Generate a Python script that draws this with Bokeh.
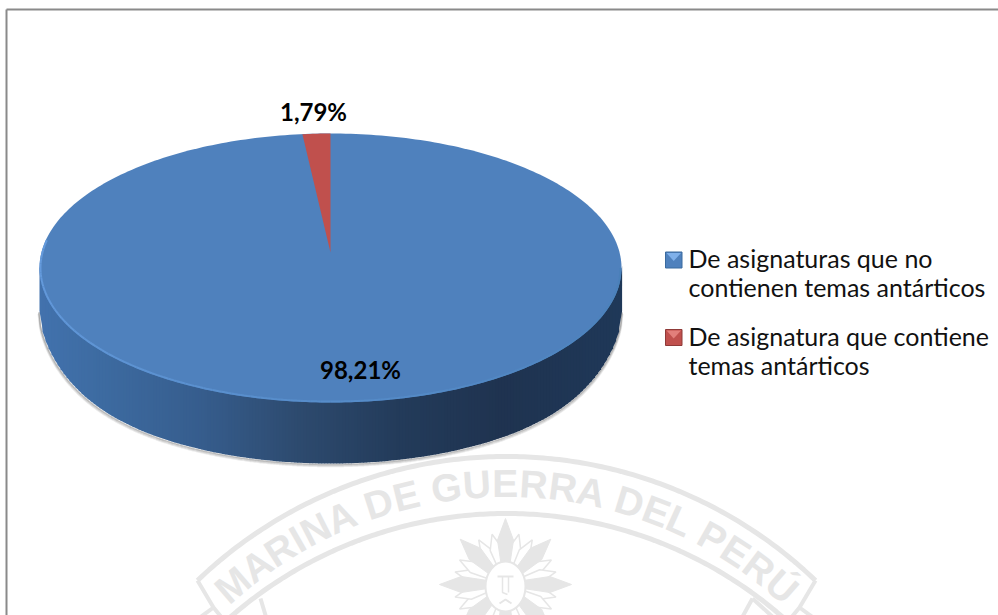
import numpy as np
from bokeh.plotting import figure
from bokeh.models import Range1d
from bokeh.core.properties import value
from bokeh.embed import file_html
from bokeh.resources import INLINE

# ---- chart data
categories = ["De asignaturas que no\ncontienen temas antárticos",
              "De asignatura que contiene\ntemas antárticos"]
series_values = [98.21, 1.79]
value_labels = ["98,21%", "1,79%"]
watermark_text = "MARINA DE GUERRA DEL PERÚ"

# ---- style
BLUE = "#4f81bd"
RED = "#c0504d"
WM = "#e6e6e6"
FONT = "Lato"

p = figure(width=998, height=615, output_backend="svg", toolbar_location=None,
           x_range=Range1d(0, 998), y_range=Range1d(615, 0), min_border=0,
           x_axis_type=None, y_axis_type=None, outline_line_color=None,
           background_fill_color="white", border_fill_color="white")
p.grid.visible = False
p.styles = {"position": "absolute", "left": "0px", "top": "0px"}

# ---- frame
p.line([6, 6], [9, 615], line_color="#8a8a8a", line_width=2)
p.line([6, 998], [9, 9], line_color="#8a8a8a", line_width=2)

# ---- watermark
wx = 506
def arc(cy, R, x0, x1):
    x = np.linspace(x0, x1, 160)
    return x, cy - np.sqrt(R**2 - (x - wx)**2)
for cy, R, x0, x1 in [(903, 447, 197, 815), (933, 420, 222, 790)]:
    xs, ys = arc(cy, R, x0, x1)
    p.line(xs, ys, line_color=WM, line_width=5)
for xs, ys in [([197, 213, 222], [580, 607, 618]), ([213, 198], [607, 618]),
               ([260, 266], [598, 618]),
               ([815, 799, 790], [580, 607, 618]), ([799, 814], [607, 618]),
               ([752, 741], [598, 618]), ([752, 774], [598, 618])]:
    p.line(xs, ys, line_color=WM, line_width=4)

char_w = {"M": .83, "A": .67, "R": .72, "I": .28, "N": .72, " ": .28, "D": .72, "E": .67,
          "G": .78, "U": .72, "L": .56, "P": .67, "Ú": .72}
widths = np.array([char_w[c] for c in watermark_text])
mids = np.cumsum(widths) - widths / 2
mids = (mids / widths.sum() - .5) * 2
ang = np.radians(43.0) * mids
Rt, cyt = 420, 903
p.text(wx + Rt * np.sin(ang), cyt - Rt * np.cos(ang), text=list(watermark_text),
       angle=-ang, text_color=WM, text_font=value("Liberation Sans"),
       text_font_size="39px", text_font_style="bold", text_align="center", text_baseline="middle")

# emblem
ex, ey = 505, 584
def ray(a, length, half, r0=18):
    a = np.radians(a)
    d = np.array([np.sin(a), -np.cos(a)])
    n = np.array([d[1], -d[0]])
    o = np.array([ex, ey])
    pts = [o + d * r0 - n * half * .5, o + d * (r0 + (length - r0) * .55) - n * half,
           o + d * length, o + d * (r0 + (length - r0) * .55) + n * half, o + d * r0 + n * half * .5]
    return [q[0] for q in pts], [q[1] for q in pts]
hollow = [15, 31, 62, 76, 104, 118, 149, 165, 195, 211, 242, 256, 284, 298, 329, 345]
solid = [(0, 66), (45, 64), (90, 66), (135, 64), (180, 66), (225, 64), (270, 66), (315, 64)]
hs = [ray(a, 52, 6) for a in hollow]
p.patches([h[0] for h in hs], [h[1] for h in hs], fill_color="white", line_color=WM, line_width=1.5)
ss = [ray(a, l, 8) for a, l in solid]
p.patches([s[0] for s in ss], [s[1] for s in ss], fill_color=WM, line_color=WM, line_width=1)
p.ellipse([ex], [ey + 2], width=40, height=50, fill_color="white", line_color=WM, line_width=2)
p.line([497, 513], [576, 576], line_color=WM, line_width=2)
p.line([502, 502, 507], [576, 592, 594], line_color=WM, line_width=1.5)
p.line([508, 508], [576, 592], line_color=WM, line_width=1.5)
p.line([499, 505, 511], [603, 599, 603], line_color=WM, line_width=2)

# ---- pie geometry
cx, cy, rx, ry, depth = 330, 267.5, 291, 134.5, 61
apex_y = 252
shares = np.array(series_values) / sum(series_values)

def lerp_col(x):
    stops_x = [39, 100, 200, 300, 400, 500, 621]
    stops = np.array([[0x42, 0x72, 0xad], [0x3d, 0x6b, 0xa1], [0x36, 0x5d, 0x8d], [0x2d, 0x4a, 0x6e],
                      [0x23, 0x3b, 0x5a], [0x1f, 0x33, 0x50], [0x1f, 0x38, 0x58]], float)
    return "#%02x%02x%02x" % tuple(int(round(np.interp(x, stops_x, stops[:, i]))) for i in range(3))

def wall_bottom(u):
    # the wall's lower edge rounds off towards the two ends of the disc
    return cy + depth - 18 * np.abs(u)**8 + ry * np.sqrt(1 - u**2)

# shadow
u_s = np.linspace(-1, 1, 400)
for off, alpha in [(3, .12), (2, .2), (1, .35)]:
    p.line(cx + (rx + off * .4) * u_s, wall_bottom(u_s) + off,
           line_color="#555555", line_alpha=alpha, line_width=1.5)

# side wall
edges = np.arange(cx - rx, cx + rx + 1, 3.0)
u = np.clip((edges - cx) / rx, -1, 1)
yt = cy + ry * np.sqrt(1 - u**2)
yb = wall_bottom(u)
sx, sy, sc = [], [], []
for i in range(len(edges) - 1):
    e0, e1 = edges[i], edges[i + 1]
    sx.append([e0, e1 + .6, e1 + .6, e0])
    sy.append([yt[i] - 2, yt[i + 1] - 2, yb[i + 1], yb[i]])
    sc.append(lerp_col((e0 + e1) / 2))
p.patches(sx, sy, fill_color=sc, line_color=None)

# top surface (first slice)
t = np.linspace(0, 2 * np.pi, 361)
p.patch(cx + rx * np.cos(t), cy + ry * np.sin(t), fill_color=BLUE, line_color=None)

# light rim
for i in range(-6, 90):
    a0, a1 = np.radians(180 - i * 2), np.radians(180 - (i + 1) * 2)
    tt = np.linspace(a0, a1, 4)
    f = max(i, 0) / 90
    col = "#%02x%02x%02x" % (int(0x64 - 0x1a * f), int(0x9a - 0x1a * f), int(0xdc - 0x24 * f))
    p.line(cx + (rx - 1) * np.cos(tt), cy + (ry - 1) * np.sin(tt), line_color=col, line_width=2)

# second slice, from its share
theta = np.linspace(0, 2 * np.pi * shares[1], 12)
wedge_x = cx - rx * .86 * np.sin(theta)
wedge_y = cy - ry * np.cos(theta)
p.patch([cx, *wedge_x], [apex_y, *wedge_y], fill_color=RED, line_color=None)

# data labels
p.text([360, 313], [369, 111], text=value_labels, text_color="black", text_font=value(FONT),
       text_font_style="bold", text_font_size="24px", text_align="center", text_baseline="middle")

# legend
leg_y = [259.5, 337]
colors = [BLUE, RED]
lights = ["#7fb0ea", "#e27f7b"]
darks = ["#3a6a9f", "#8f3a38"]
for yy, c, l, d in zip(leg_y, colors, lights, darks):
    p.quad(left=[665], right=[681.5], top=[yy - 8], bottom=[yy + 8], fill_color=c, line_color=d, line_width=1)
    p.patch([666, 680.5, 673.2], [yy - 7, yy - 7, yy + 1], fill_color=l, line_color=None)
line_gap = 29
for yy, cat in zip(leg_y, categories):
    a, b = cat.split("\n")
    p.text([688, 688], [yy - 2, yy + line_gap - 2], text=[a, b], text_color="#111111", text_font=value(FONT),
           text_font_size="25px", text_align="left", text_baseline="middle")

open("out.html", "w").write(file_html(p, INLINE))
